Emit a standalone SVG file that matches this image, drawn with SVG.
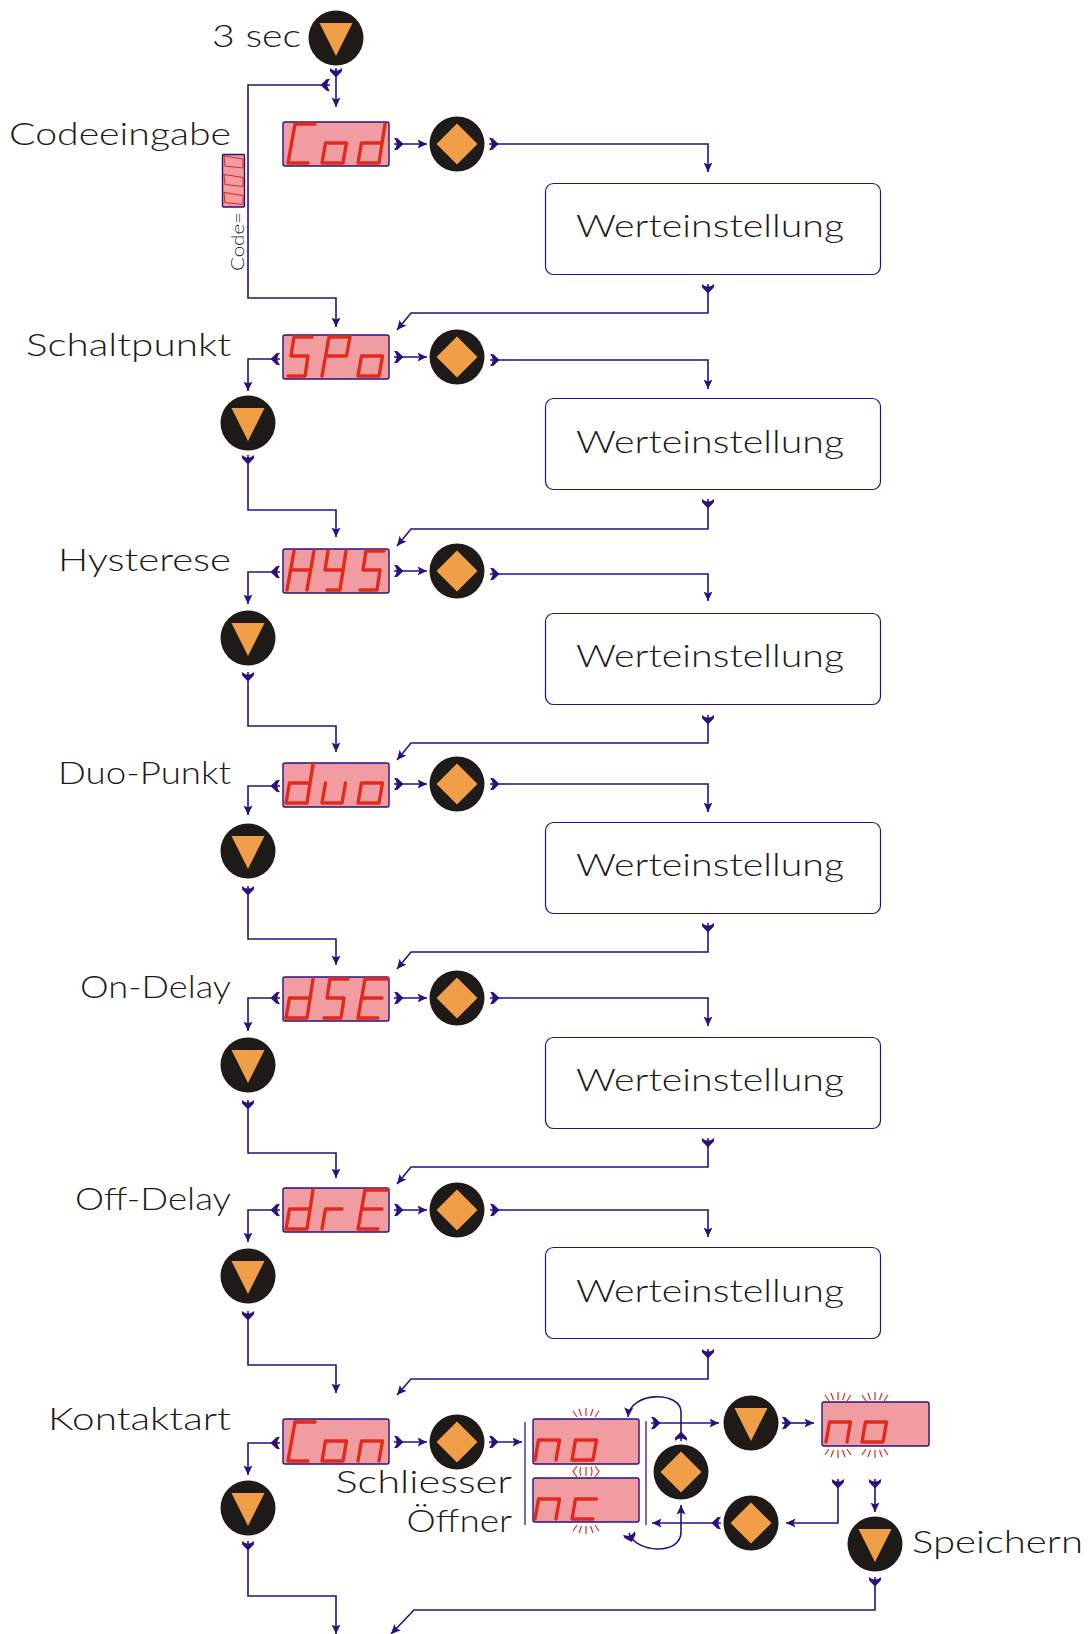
<svg xmlns="http://www.w3.org/2000/svg" width="1091" height="1634" viewBox="0 0 1091 1634">
<style>
.bg{fill:#fff}
.c{fill:none;stroke:#2a0f80;stroke-width:1.6;marker-start:url(#tail);marker-end:url(#head)}
.plain{fill:none;stroke:#4a3a98;stroke-width:1.5}
.disp{fill:#f09ca0;stroke:#2a0f80;stroke-width:1.4}
.box{fill:#fff;stroke:#2a0f80;stroke-width:1.2}
.knob{fill:#1e1a17}
.tri{fill:#f09e47}
.seg{fill:none;stroke:#e02b1c;stroke-width:3.4;stroke-linejoin:round;stroke-linecap:round}
.ray{fill:none;stroke:#e02b1c;stroke-width:1.2}
.thin{fill:none;stroke:#e02b1c;stroke-width:1.1}
text{font-family:"Lato","Liberation Sans",sans-serif;font-weight:300;fill:#1e1a17;font-size:32px}
</style>
<defs>
<marker id="head" markerUnits="userSpaceOnUse" markerWidth="12" markerHeight="12" refX="9.500" refY="6" orient="auto"><path d="M0 1.500L9.500 6L0 10.500L2 6Z" fill="#2a0f80"/></marker>
<marker id="tail" markerUnits="userSpaceOnUse" markerWidth="14" markerHeight="16" refX="0" refY="8" orient="auto"><path d="M0 1.800L3.500 2.200L9.500 8L3.500 13.800L0 14.200Q2.500 11 2.800 8Q2.500 5 0 1.800Z" fill="#2a0f80"/></marker>
<path id="btnT" d="M-16.500 -15H16.500L0 18Z"/>
<path id="btnD" d="M0 -20.500L20.500 0L0 20.500L-20.500 0Z"/>
<path id="gC" d="M27 2H7L0 41H20"/>
<path id="go" d="M3.500 21H24.500L21 41H0Z"/>
<path id="gd" d="M27 2L21 41H0L3.500 21H24"/>
<path id="gS" d="M24 2H6L3 21H20L17 41H0"/>
<path id="gP" d="M0 41L7 2H28L24.500 21H3.500"/>
<path id="gH" d="M7 2L0 41M27 2L20 41M3.500 21H23.500"/>
<path id="g4" d="M5 2L2 21H20M23 2L17 41H4"/>
<path id="gu" d="M3.500 21L0 41H20L23.500 21"/>
<path id="gE" d="M30 2H7L0 41H20M3.500 21H24"/>
<path id="gr" d="M0 41L3.500 21H20"/>
<path id="gn" d="M0 41L3.500 21H24.500L21 41"/>
<path id="gc" d="M24.500 21H3.500L0 41H21"/>
<path id="raysUp" class="ray" d="M-13 -6L-9 0M-7 -8L-4.500 -1M0 -9V-1M7 -8L4.500 -1M13 -6L9 0"/>
<path id="raysDn" class="ray" d="M-13 6L-9 0M-7 8L-4.500 1M0 9V1M7 8L4.500 1M13 6L9 0"/>
</defs>
<rect class="bg" width="1091" height="1634"/>

<g id="connectors">
<path class="c" d="M336 68V107"/>
<path class="c" d="M330 85H248V298H336V327"/>
<path class="c" d="M394 144H427"/><path class="c" d="M489 144H708V172"/>
<path class="c" d="M708 284V313H411L397 330"/>
<path class="c" d="M394 357H427"/><path class="c" d="M490 360H708V389"/>
<path class="c" d="M708 499V529H411L397 546"/>
<path class="c" d="M280 359H248V391"/><path class="c" d="M248 455V510H336V537"/>
<path class="c" d="M394 571H427"/><path class="c" d="M490 574H708V601"/>
<path class="c" d="M708 715V743H411L397 760"/>
<path class="c" d="M280 572H248V604"/><path class="c" d="M248 672V726H336V752"/>
<path class="c" d="M394 784H427"/><path class="c" d="M490 784H708V812"/>
<path class="c" d="M708 923V952H411L397 969"/>
<path class="c" d="M280 786H248V815"/><path class="c" d="M248 886V939H336V965"/>
<path class="c" d="M394 998H427"/><path class="c" d="M490 998H708V1026"/>
<path class="c" d="M708 1138V1167H411L397 1184"/>
<path class="c" d="M280 998H248V1031"/><path class="c" d="M248 1100V1153H336V1178"/>
<path class="c" d="M394 1210H427"/><path class="c" d="M490 1210H708V1237"/>
<path class="c" d="M708 1349V1379H411L397 1395"/>
<path class="c" d="M280 1210H248V1242"/><path class="c" d="M248 1311V1365H336V1393"/>
<path class="c" d="M394 1442H427"/><path class="c" d="M489 1442H522"/>
<path class="c" d="M280 1443H248V1475"/><path class="c" d="M248 1541V1596H336V1634"/>
<path class="plain" d="M525 1422V1525M646 1421V1525"/>
<path class="c" d="M651 1423H719"/><path class="c" d="M782 1423H814"/>
<path class="c" d="M681 1441V1412C681 1391 630 1391 628 1417"/>
<path class="c" d="M721 1523H652"/>
<path class="c" d="M629 1533C635 1553 681 1556 681 1532V1505"/>
<path class="c" d="M838 1479V1523H786"/>
<path class="c" d="M875 1479V1512"/>
<path class="c" d="M875 1577V1610H414L391 1634"/>
</g>

<g id="start"><text x="212" y="47" textLength="89" lengthAdjust="spacingAndGlyphs">3 sec</text><circle class="knob" cx="336" cy="38" r="27.500"/><use href="#btnT" class="tri" x="336" y="38"/></g>

<g id="codeeingabe">
<text x="9" y="145" textLength="222" lengthAdjust="spacingAndGlyphs">Codeeingabe</text>
<rect class="disp" x="222.500" y="154.500" width="22" height="52.500" rx="1"/>
<path class="thin" d="M224 156L243 159V168L225 166ZM224 174.500L243 177.500V186.500L225 184.500ZM224 192.500L243 195.500V204.500L225 202.500Z"/>
<text transform="translate(244 271) rotate(-90)" textLength="59" lengthAdjust="spacingAndGlyphs" style="font-size:18px">Code=</text>
<rect class="disp" x="283" y="122" width="106" height="44" rx="2"/>
<g class="seg"><use href="#gC" x="288" y="122"/><use href="#go" x="322" y="122"/><use href="#gd" x="358" y="122"/></g>
<circle class="knob" cx="457" cy="144" r="27.500"/><use href="#btnD" class="tri" x="457" y="144"/>
</g>
<g id="wert1"><rect class="box" x="545.500" y="183.500" width="335" height="91" rx="8"/><text x="576" y="237" textLength="268" lengthAdjust="spacingAndGlyphs">Werteinstellung</text></g>

<g id="schaltpunkt">
<text x="26" y="356" textLength="205" lengthAdjust="spacingAndGlyphs">Schaltpunkt</text>
<rect class="disp" x="283" y="335" width="106" height="44" rx="2"/>
<g class="seg"><use href="#gS" x="288" y="335"/><use href="#gP" x="322" y="335"/><use href="#go" x="358" y="335"/></g>
<circle class="knob" cx="457" cy="357" r="27.500"/><use href="#btnD" class="tri" x="457" y="357"/>
<circle class="knob" cx="248" cy="423" r="27.500"/><use href="#btnT" class="tri" x="248" y="423"/>
</g>
<g id="wert2"><rect class="box" x="545.500" y="398.500" width="335" height="91" rx="8"/><text x="576" y="453" textLength="268" lengthAdjust="spacingAndGlyphs">Werteinstellung</text></g>

<g id="hysterese">
<text x="58" y="571" textLength="173" lengthAdjust="spacingAndGlyphs">Hysterese</text>
<rect class="disp" x="283" y="549" width="106" height="44" rx="2"/>
<g class="seg"><use href="#gH" x="287" y="549"/><use href="#g4" x="323" y="549"/><use href="#gS" x="360" y="549"/></g>
<circle class="knob" cx="457" cy="571" r="27.500"/><use href="#btnD" class="tri" x="457" y="571"/>
<circle class="knob" cx="248" cy="638" r="27.500"/><use href="#btnT" class="tri" x="248" y="638"/>
</g>
<g id="wert3"><rect class="box" x="545.500" y="613.500" width="335" height="91" rx="8"/><text x="576" y="667" textLength="268" lengthAdjust="spacingAndGlyphs">Werteinstellung</text></g>

<g id="duopunkt">
<text x="58" y="784" textLength="173" lengthAdjust="spacingAndGlyphs">Duo-Punkt</text>
<rect class="disp" x="283" y="763" width="106" height="44" rx="2"/>
<g class="seg"><use href="#gd" x="286" y="762"/><use href="#gu" x="322" y="762"/><use href="#go" x="358" y="762"/></g>
<circle class="knob" cx="457" cy="784" r="27.500"/><use href="#btnD" class="tri" x="457" y="784"/>
<circle class="knob" cx="248" cy="851" r="27.500"/><use href="#btnT" class="tri" x="248" y="851"/>
</g>
<g id="wert4"><rect class="box" x="545.500" y="822.500" width="335" height="91" rx="8"/><text x="576" y="876" textLength="268" lengthAdjust="spacingAndGlyphs">Werteinstellung</text></g>

<g id="ondelay">
<text x="80" y="998" textLength="151" lengthAdjust="spacingAndGlyphs">On-Delay</text>
<rect class="disp" x="283" y="977" width="106" height="44" rx="2"/>
<g class="seg"><use href="#gd" x="286" y="977"/><use href="#gS" x="324" y="977"/><use href="#gE" x="358" y="977"/></g>
<circle class="knob" cx="457" cy="998" r="27.500"/><use href="#btnD" class="tri" x="457" y="998"/>
<circle class="knob" cx="248" cy="1065" r="27.500"/><use href="#btnT" class="tri" x="248" y="1065"/>
</g>
<g id="wert5"><rect class="box" x="545.500" y="1037.500" width="335" height="91" rx="8"/><text x="576" y="1091" textLength="268" lengthAdjust="spacingAndGlyphs">Werteinstellung</text></g>

<g id="offdelay">
<text x="75" y="1210" textLength="156" lengthAdjust="spacingAndGlyphs">Off-Delay</text>
<rect class="disp" x="283" y="1188" width="106" height="44" rx="2"/>
<g class="seg"><use href="#gd" x="286" y="1188"/><use href="#gr" x="322" y="1188"/><use href="#gE" x="358" y="1188"/></g>
<circle class="knob" cx="457" cy="1210" r="27.500"/><use href="#btnD" class="tri" x="457" y="1210"/>
<circle class="knob" cx="248" cy="1276" r="27.500"/><use href="#btnT" class="tri" x="248" y="1276"/>
</g>
<g id="wert6"><rect class="box" x="545.500" y="1247.500" width="335" height="91" rx="8"/><text x="576" y="1302" textLength="268" lengthAdjust="spacingAndGlyphs">Werteinstellung</text></g>

<g id="kontaktart">
<text x="48" y="1430" textLength="183" lengthAdjust="spacingAndGlyphs">Kontaktart</text>
<rect class="disp" x="283" y="1419" width="106" height="45" rx="2"/>
<g class="seg"><use href="#gC" x="288" y="1420"/><use href="#go" x="322" y="1420"/><use href="#gn" x="358" y="1420"/></g>
<circle class="knob" cx="457" cy="1442" r="27.500"/><use href="#btnD" class="tri" x="457" y="1442"/>
<circle class="knob" cx="248" cy="1508" r="27.500"/><use href="#btnT" class="tri" x="248" y="1508"/>
</g>

<g id="schliesser-oeffner">
<text x="335.500" y="1493" textLength="176.500" lengthAdjust="spacingAndGlyphs">Schliesser</text>
<text x="406.500" y="1532" textLength="105.500" lengthAdjust="spacingAndGlyphs">Öffner</text>
<rect class="disp" x="533" y="1419" width="106" height="45" rx="2"/>
<g class="seg"><use href="#gn" x="535" y="1419"/><use href="#go" x="572" y="1419"/></g>
<rect class="disp" x="533" y="1478" width="106" height="44" rx="2"/>
<g class="seg"><use href="#gn" x="535" y="1478"/><use href="#gc" x="572" y="1478"/></g>
<use href="#raysUp" x="586" y="1417"/>
<use href="#raysDn" x="586" y="1525"/>
<path class="ray" d="M577 1466L573 1471.500L577 1477M595 1466L599 1471.500L595 1477M581 1467Q579 1471.500 581 1476M591 1467Q593 1471.500 591 1476M586 1467V1476"/>
</g>

<g id="btn-down-1"><circle class="knob" cx="751" cy="1423" r="27.500"/><use href="#btnT" class="tri" x="751" y="1423"/></g>
<g id="btn-set-1"><circle class="knob" cx="681" cy="1472" r="27.500"/><use href="#btnD" class="tri" x="681" y="1472"/></g>
<g id="btn-set-2"><circle class="knob" cx="751" cy="1523" r="27.500"/><use href="#btnD" class="tri" x="751" y="1523"/></g>

<g id="flash-display">
<rect class="disp" x="822" y="1402" width="107" height="44" rx="2"/>
<g class="seg"><use href="#gn" x="826" y="1401"/><use href="#go" x="862" y="1401"/></g>
<use href="#raysUp" x="838" y="1401"/><use href="#raysUp" x="875" y="1401"/>
<use href="#raysDn" x="838" y="1449"/><use href="#raysDn" x="875" y="1449"/>
</g>

<g id="speichern"><circle class="knob" cx="875" cy="1544" r="27.500"/><use href="#btnT" class="tri" x="875" y="1544"/><text x="912" y="1553" textLength="171" lengthAdjust="spacingAndGlyphs">Speichern</text></g>
</svg>
